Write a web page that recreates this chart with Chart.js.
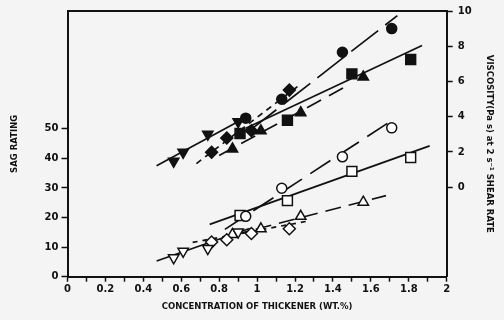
<!DOCTYPE html>
<html>
<head>
<meta charset="utf-8">
<script src="https://cdn.jsdelivr.net/npm/chart.js@4"></script>
<style>
  html, body { margin: 0; padding: 0; background: #f4f4f4; }
  #wrap { width: 504px; height: 320px; position: relative; }
</style>
</head>
<body>
<div id="wrap"><canvas id="myChart"></canvas></div>
<script>
"use strict";

// concentration of thickener (wt.%) per marker type
const xDown = [0.56, 0.61, 0.74, 0.90];
const xDiamond = [0.76, 0.84, 0.97, 1.17];
const xCircle = [0.94, 1.13, 1.45, 1.71];
const xSquare = [0.91, 1.16, 1.50, 1.81];
const xUp = [0.87, 1.02, 1.23, 1.56];

// viscosity (Pa s), filled markers, right axis
const viscDown = [1.47, 1.98, 3.01, 3.72];
const viscDiamond = [1.98, 2.79, 3.20, 5.51];
const viscCircle = [3.92, 4.99, 7.66, 9.00];
const viscSquare = [3.05, 3.80, 6.43, 7.25];
const viscUp = [2.17, 3.20, 4.23, 6.25];

// sag rating, open markers, left axis
const sagDown = [6.4, 8.6, 9.5, 15.1];
const sagDiamond = [11.7, 12.5, 14.6, 16.2];
const sagCircle = [20.4, 29.9, 40.5, 50.3];
const sagSquare = [20.7, 25.7, 35.6, 40.3];
const sagUp = [14.3, 16.2, 20.4, 25.2];

// fitted lines, end points
const fitViscDownX = [0.47, 0.93], fitViscDownY = [1.22, 3.90];
const fitViscCircleX = [0.96, 1.74], fitViscCircleY = [3.21, 9.74];
const fitViscDiamondX = [0.68, 1.23], fitViscDiamondY = [1.34, 5.85];
const fitViscSquareX = [0.94, 1.87], fitViscSquareY = [3.35, 8.04];
const fitViscUpX = [0.80, 1.49], fitViscUpY = [1.80, 5.84];

const fitSagDownX = [0.47, 0.96], fitSagDownY = [5.3, 16.3];
const fitSagDiamondX = [0.66, 1.26], fitSagDiamondY = [11.6, 18.7];
const fitSagUpX = [0.87, 1.68], fitSagUpY = [14.0, 27.4];
const fitSagSquareX = [0.75, 1.91], fitSagSquareY = [17.7, 44.2];
const fitSagCircleX = [0.83, 1.73], fitSagCircleY = [16.0, 53.6];

// tick labels
const sagTicks = [0, 10, 20, 30, 40, 50];
const viscTicks = [0, 2, 4, 6, 8, 10];

const INK = "#111";

function pts(xs, ys) {
    return xs.map((x, i) => ({ x: x, y: ys[i] }));
}

function markers(xs, ys, style, filled, axis, radius, rot) {
    return {
        data: pts(xs, ys),
        yAxisID: axis,
        showLine: false,
        pointStyle: style,
        pointRadius: radius,
        pointRotation: rot || 0,
        pointBackgroundColor: filled ? INK : "#fff",
        pointBorderColor: INK,
        pointBorderWidth: 1.5,
        order: 1,
    };
}

function fit(xs, ys, axis, dash) {
    return {
        data: pts(xs, ys),
        yAxisID: axis,
        showLine: true,
        borderColor: INK,
        borderWidth: 1.7,
        borderDash: dash,
        pointRadius: 0,
        order: 2,
    };
}

const topBorder = {
    id: "topBorder",
    afterDraw(chart) {
        const a = chart.chartArea;
        const ctx = chart.ctx;
        ctx.save();
        ctx.strokeStyle = INK;
        ctx.lineWidth = 2;
        ctx.beginPath();
        ctx.moveTo(a.left, a.top);
        ctx.lineTo(a.right, a.top);
        ctx.stroke();
        ctx.restore();
    }
};

const tickFont = { family: "DejaVu Sans", weight: "bold", size: 10 };
const titleFont = { family: "DejaVu Sans", weight: "bold", size: 8.5 };

const datasets = [
    // lines
    fit(fitViscDownX, fitViscDownY, "y2", []),
    fit(fitViscCircleX, fitViscCircleY, "y2", [34, 9]),
    fit(fitViscDiamondX, fitViscDiamondY, "y2", [6, 5]),
    fit(fitViscSquareX, fitViscSquareY, "y2", []),
    fit(fitViscUpX, fitViscUpY, "y2", [16, 9]),
    fit(fitSagDownX, fitSagDownY, "y", []),
    fit(fitSagDiamondX, fitSagDiamondY, "y", [5, 5]),
    fit(fitSagUpX, fitSagUpY, "y", [16, 8]),
    fit(fitSagSquareX, fitSagSquareY, "y", []),
    fit(fitSagCircleX, fitSagCircleY, "y", [24, 10]),
    // filled markers: viscosity
    markers(xDown, viscDown, "triangle", true, "y2", 6, 180),
    markers(xDiamond, viscDiamond, "rectRot", true, "y2", 6),
    markers(xCircle, viscCircle, "circle", true, "y2", 5),
    markers(xSquare, viscSquare, "rect", true, "y2", 7),
    markers(xUp, viscUp, "triangle", true, "y2", 6),
    // open markers: sag rating
    markers(xDown, sagDown, "triangle", false, "y", 6, 180),
    markers(xDiamond, sagDiamond, "rectRot", false, "y", 6),
    markers(xCircle, sagCircle, "circle", false, "y", 5),
    markers(xSquare, sagSquare, "rect", false, "y", 7),
    markers(xUp, sagUp, "triangle", false, "y", 6),
];

const config = {
    type: "scatter",
    data: { datasets: datasets },
    options: {
        responsive: true,
        maintainAspectRatio: false,
        animation: false,
        layout: { padding: { top: 9.5, left: 0, right: 0, bottom: 0 } },
        plugins: {
            legend: { display: false },
            tooltip: { enabled: false },
        },
        scales: {
            x: {
                type: "linear",
                min: 0,
                max: 2,
                afterFit: s => { s.height = 43.3; },
                grid: { drawOnChartArea: false, tickLength: 5, tickWidth: 1.5, color: INK },
                border: { display: true, color: INK, width: 2 },
                ticks: {
                    stepSize: 0.1,
                    autoSkip: false,
                    maxRotation: 0,
                    color: INK,
                    font: tickFont,
                    padding: 2,
                    callback: v => (Math.round(v * 10) % 2 === 0 ? String(Math.round(v * 10) / 10) : ""),
                },
                title: {
                    display: true,
                    text: "CONCENTRATION OF THICKENER (WT.%)",
                    color: INK,
                    font: titleFont,
                    padding: { top: 0, bottom: 8 },
                },
            },
            y: {
                position: "left",
                min: 0,
                max: 89.8,
                afterBuildTicks: s => { s.ticks = sagTicks.map(v => ({ value: v })); },
                afterFit: s => { s.width = 67.5; },
                grid: { drawOnChartArea: false, tickLength: 6, tickWidth: 1.5, color: INK },
                border: { display: true, color: INK, width: 2 },
                ticks: { color: INK, font: tickFont, padding: 3 },
                title: {
                    display: true,
                    text: "SAG RATING",
                    color: INK,
                    font: titleFont,
                    padding: { top: 10, bottom: 0 },
                },
            },
            y2: {
                position: "right",
                min: -5.08,
                max: 10,
                afterBuildTicks: s => { s.ticks = viscTicks.map(v => ({ value: v })); },
                afterFit: s => { s.width = 57.3; },
                grid: { drawOnChartArea: false, tickLength: 6, tickWidth: 1.5, color: INK },
                border: { display: true, color: INK, width: 2 },
                ticks: { color: INK, font: tickFont, padding: 5 },
                title: {
                    display: true,
                    text: "VISCOSITY(Pa s) at 2 s\u207B\u00B9 SHEAR RATE",
                    color: INK,
                    font: titleFont,
                    padding: { top: 10, bottom: 0 },
                },
            },
        },
    },
    plugins: [topBorder],
};

const ctx = document.getElementById("myChart").getContext("2d");
new Chart(ctx, config);
</script>
</body>
</html>
